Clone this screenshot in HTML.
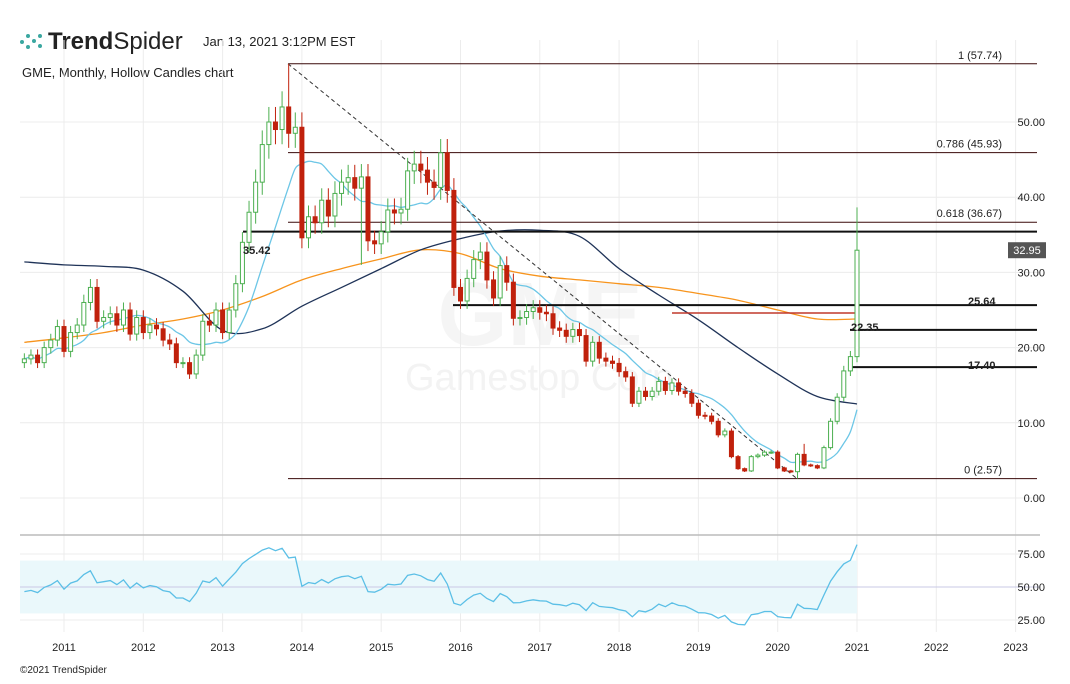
<!DOCTYPE html>
<html><head><meta charset="utf-8">
<style>
body{margin:0;background:#fff;font-family:"Liberation Sans",sans-serif;}
svg text{font-family:"Liberation Sans",sans-serif;}
</style></head>
<body>
<svg id="c" width="1070" height="679" xmlns="http://www.w3.org/2000/svg">
<rect width="1070" height="679" fill="#fff"/>
<g>
 <g fill="#3aa7a0"><circle cx="22" cy="42" r="2"/><circle cx="28" cy="36" r="2"/><circle cx="28" cy="47" r="2"/><circle cx="34" cy="41" r="2"/><circle cx="40" cy="36" r="2"/><circle cx="40" cy="46" r="2"/></g>
 <text x="48" y="49" font-size="24" fill="#222" font-weight="bold">Trend<tspan font-weight="normal">Spider</tspan></text>
</g>
<text x="203" y="46" font-size="13" fill="#222">Jan 13, 2021 3:12PM EST</text>
<text x="22" y="77" font-size="13" fill="#222">GME, Monthly, Hollow Candles chart</text>
<text x="540" y="345" font-size="90" font-weight="bold" fill="#f5f5f5" text-anchor="middle">GME</text>
<text x="405" y="390" font-size="38" fill="#f3f3f3">Gamestop Corp</text>
<g id="grid"></g>
<g id="lines"></g>
<g id="candles"></g>
<g id="rsi"></g>
<g id="labels"></g>
<text x="20" y="673" font-size="10" fill="#222">©2021 TrendSpider</text>
</svg>
<script>
const closes=[18.5,19,18,20,21,22.8,
19.5,22,23,26,28,23.5,24,24.5,23,25,21.8,24,
22,23,22.5,21,20.5,18,18,16.5,19,23.5,23,25,
22,25,28.5,34,38,42,47,50,49,52,48.5,49.3,
34.6,37.4,36.6,39.6,37.5,40.5,42,42.6,41.2,42.7,34.2,33.8,
35.4,38.3,37.9,38.4,43.5,44.4,43.6,42,41.3,45.9,40.9,28,
26.2,29.2,31.7,32.7,29,26.6,30.9,28.7,23.9,24,24.8,25.3,
24.7,24.5,22.6,22.3,21.5,22.4,21.6,18.2,20.7,18.6,18.2,17.9,
16.8,16.1,12.6,14.2,13.5,14.2,15.5,14.3,15.3,14.2,13.9,12.6,
11,10.9,10.2,8.4,8.9,5.5,3.9,3.6,5.5,5.7,6.1,6.1,
4,3.6,3.5,5.8,4.4,4.3,4,6.7,10.2,13.4,16.9,18.8,32.95];
const firstOpen=18;
const highOverrides={40:57.74,126:38.65,118:7.2};
const lowOverrides={117:2.57,51:31};
const navyMA=[31.4,31,30.8,30.3,27.5,22.3,22.5,25.5,28,30.5,33,34.5,35.5,35.6,34.8,30.5,27,23.7,20,16.5,13.5,12.5];
const orangeMA=[20.7,21.3,22,23,23.8,25,26.8,29,30.5,31.8,33,32.5,30.5,29.5,29,28.5,28,27.2,26.3,25,23.8,23.8];
const years=["2011","2012","2013","2014","2015","2016","2017","2018","2019","2020","2021","2022","2023"];
const priceTicks=[0,10,20,30,40,50];
const rsiTicks=[25,50,75];
const fibLevels=[[57.74,"1 (57.74)"],[45.93,"0.786 (45.93)"],[36.67,"0.618 (36.67)"],[2.57,"0 (2.57)"]];
const NS="http://www.w3.org/2000/svg";
function X(i){return 64+(i-6)*79.3/12;}
function Y(p){return 498-7.52*p;}
function RY(r){return 587-1.32*(r-50);}
function el(t,a,parent){const e=document.createElementNS(NS,t);for(const k in a)e.setAttribute(k,a[k]);document.getElementById(parent).appendChild(e);return e;}
years.forEach((y,k)=>{const x=64+k*79.3;
 const g=el('line',{x1:x,x2:x,y1:40,y2:632,stroke:'#ececec'},'grid');
 
 
 const t=el('text',{x:x,y:651,'font-size':11,'text-anchor':'middle',fill:'#222'},'labels');t.textContent=y;
 
 
});
priceTicks.forEach(p=>{const y=Y(p);
 const g=el('line',{x1:20,x2:1040,y1:y,y2:y,stroke:'#ececec'},'grid');
 
 
 const t=el('text',{x:1045,y:y+4,'font-size':11,'text-anchor':'end',fill:'#222'},'labels');t.textContent=p.toFixed(2);
 
 
});
let r=el('line',{x1:20,x2:1040,y1:535,y2:535,stroke:'#bbb','stroke-width':1.5},'grid');


r=el('rect',{x:20,y:RY(70),width:837,height:RY(30)-RY(70),fill:'#eaf8fb'},'grid');


rsiTicks.forEach(v=>{const y=RY(v);
 const g=el('line',{x1:20,x2:1040,y1:y,y2:y,stroke:v==50?'#c9c9e6':'#ececec'},'grid');
 
 
 const t=el('text',{x:1045,y:y+4,'font-size':11,'text-anchor':'end',fill:'#222'},'labels');t.textContent=v.toFixed(2);
 
 
});
function smoothPath(pts){let d='M'+pts[0][0]+','+pts[0][1];
 for(let k=0;k<pts.length-1;k++){const p0=pts[k-1]||pts[k],p1=pts[k],p2=pts[k+1],p3=pts[k+2]||p2;
  const c1=[p1[0]+(p2[0]-p0[0])/6,p1[1]+(p2[1]-p0[1])/6],c2=[p2[0]-(p3[0]-p1[0])/6,p2[1]-(p3[1]-p1[1])/6];
  d+=' C'+c1.map(v=>v.toFixed(1))+' '+c2.map(v=>v.toFixed(1))+' '+p2[0].toFixed(1)+','+p2[1].toFixed(1);}
 return d;}
function curve(arr,xf,col,name,w){const pts=arr.map((v,k)=>[xf(k),Y(v)]);
 const l=el('path',{d:smoothPath(pts),fill:'none',stroke:col,'stroke-width':w},'lines');
 
 }
const halfX=k=>X(k*6);
curve(orangeMA,halfX,'#f7941d','ma-orange',1.3);
curve(navyMA,halfX,'#1f3358','ma-navy',1.3);
const sma=closes.map((c,i)=>{const s=closes.slice(Math.max(0,i-9),i+1);return s.reduce((a,b)=>a+b,0)/s.length;});
curve(sma,X,'#6cc6e6','ma-blue',1.3);
function hl(x1,x2,p,w,col,name){const l=el('line',{x1:x1,x2:x2,y1:Y(p),y2:Y(p),stroke:col,'stroke-width':w},'lines');
 
 }
fibLevels.forEach(f=>{hl(288,1037,f[0],1,'#3a0a0a','fib-line');
 const t=el('text',{x:1002,y:Y(f[0])-5,'font-size':11,'text-anchor':'end',fill:'#222'},'labels');t.textContent=f[1];
 
 });
hl(243,1037,35.42,2,'#111','level-35-42');
hl(453,1037,25.64,2,'#111','level-25-64');
hl(850,1037,22.35,2,'#111','level-22-35');
hl(850,1037,17.40,2,'#111','level-17-40');
hl(672,857,24.6,1.5,'#c0392b','level-red');
let d=el('line',{x1:288,y1:Y(57.74),x2:797,y2:Y(2.57),stroke:'#333','stroke-dasharray':'4,3'},'lines');


[[243,252,"35.42"],[968,303,"25.64"],[851,329,"22.35"],[968,367,"17.40"]].forEach(a=>{
 const t=el('text',{x:a[0],y:a[1]+2,'font-size':11,'font-weight':'bold',fill:'#222'},'labels');t.textContent=a[2];
 
 });
closes.forEach((c,i)=>{const o=i?closes[i-1]:firstOpen;
 const up=c>=o;const col=up?'#4caf50':'#c0210c';const x=X(i);
 const hi=highOverrides[i]||Math.max(o,c)*1.04;const lo=lowOverrides[i]||Math.min(o,c)*0.96;
 const w=el('line',{x1:x,x2:x,y1:Y(hi),y2:Y(lo),stroke:col,'stroke-width':1},'candles');
 
 
 const top=Y(Math.max(o,c)),h=Math.max(1,Y(Math.min(o,c))-top);
 const b=el('rect',{x:x-2,y:top,width:4,height:h,fill:up?'#fff':col,stroke:col,'stroke-width':1},'candles');
 
 
});
let pb=el('rect',{x:1008,y:Y(32.95)-8,width:38,height:16,fill:'#555'},'labels');


let pt=el('text',{x:1027,y:Y(32.95)+4,'font-size':11,'text-anchor':'middle',fill:'#fff'},'labels');pt.textContent=closes[closes.length-1].toFixed(2);


// RSI (Wilder 14, seeded with neutral averages)
let ag=1.0,al=1.15;const rsi=[];
closes.forEach((c,i)=>{if(i>0){const ch=c-closes[i-1];
 ag=(ag*13+Math.max(ch,0))/14;al=(al*13+Math.max(-ch,0))/14;}
 rsi.push(100-100/(1+ag/al));});
const rp=rsi.map((v,i)=>X(i).toFixed(1)+','+RY(v).toFixed(1)).join(' ');
let rl=el('polyline',{points:rp,fill:'none',stroke:'#5bbfe6','stroke-width':1.3},'rsi');


</script>
</body></html>
